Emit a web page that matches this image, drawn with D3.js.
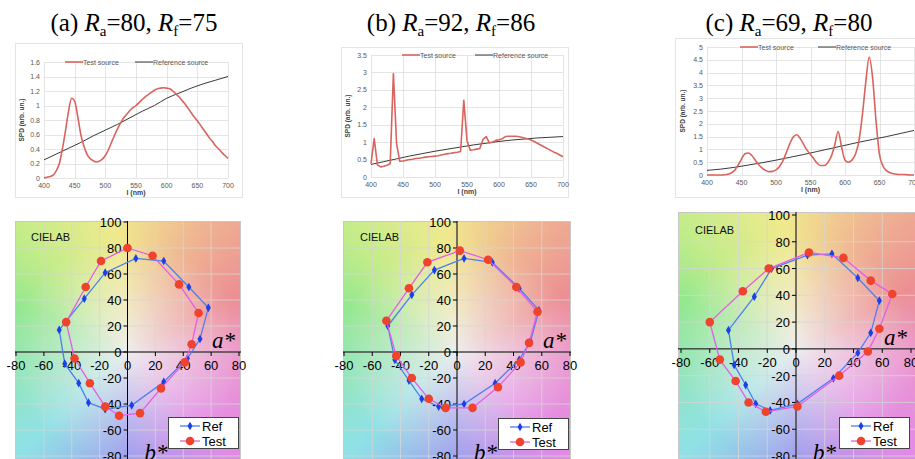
<!DOCTYPE html>
<html>
<head>
<meta charset="utf-8">
<script src="https://cdn.jsdelivr.net/npm/d3@7"></script>
<style>
  body { margin: 0; background: #fff; }
  svg { display: block; }
</style>
</head>
<body>
<script>
// wavelength grids (nm)
var wl5 = d3.range(400, 701, 5);
var wl20 = d3.range(400, 701, 20);

// SPD, test sources, 5 nm steps
var spdTestA = [0, 0.01, 0.02, 0.04, 0.1, 0.2, 0.4, 0.65, 0.92, 1.1, 1.06, 0.85, 0.6, 0.44, 0.33, 0.27, 0.24, 0.22, 0.23, 0.26,
  0.31, 0.39, 0.49, 0.59, 0.68, 0.76, 0.83, 0.88, 0.93, 0.97, 1.0, 1.04, 1.08, 1.12, 1.15, 1.18, 1.21, 1.23, 1.24, 1.245,
  1.24, 1.23, 1.2, 1.16, 1.12, 1.07, 1.02, 0.96, 0.9, 0.84, 0.79, 0.73, 0.67, 0.61, 0.55, 0.5, 0.44, 0.4, 0.35, 0.31, 0.27];
var spdTestB = [0.38, 1.1, 0.35, 0.29, 0.31, 0.34, 0.38, 2.97, 0.95, 0.45, 0.46, 0.48, 0.5, 0.51, 0.53, 0.54, 0.55, 0.57, 0.58, 0.59,
  0.6, 0.61, 0.63, 0.65, 0.67, 0.68, 0.7, 0.71, 0.73, 2.2, 1.05, 0.77, 0.78, 0.8, 0.82, 1.08, 1.16, 0.98, 1.0, 1.05,
  1.07, 1.1, 1.16, 1.17, 1.17, 1.17, 1.16, 1.14, 1.12, 1.09, 1.06, 1.02, 0.97, 0.92, 0.87, 0.82, 0.77, 0.72, 0.68, 0.63, 0.58];
var spdTestC = [0, 0, 0, 0, 0, 0.01, 0.03, 0.08, 0.18, 0.38, 0.62, 0.83, 0.86, 0.76, 0.58, 0.4, 0.27, 0.18, 0.13, 0.14,
  0.2, 0.33, 0.55, 0.88, 1.22, 1.48, 1.57, 1.43, 1.2, 0.97, 0.8, 0.62, 0.45, 0.37, 0.37, 0.48, 0.72, 1.15, 1.7, 1.1,
  0.58, 0.5, 0.58, 0.8, 1.3, 2.3, 3.6, 4.6, 3.8, 2.1, 0.8, 0.35, 0.17, 0.09, 0.05, 0.03, 0.02, 0.02, 0.01, 0, 0];

// SPD, reference sources, 20 nm steps
var spdRefA = [0.25, 0.33, 0.41, 0.49, 0.58, 0.66, 0.74, 0.83, 0.92, 1.0, 1.1, 1.17, 1.24, 1.3, 1.35, 1.4];
var spdRefB = [0.36, 0.44, 0.52, 0.6, 0.67, 0.74, 0.8, 0.86, 0.92, 0.97, 1.02, 1.06, 1.09, 1.12, 1.14, 1.16];
var spdRefC = [0.18, 0.23, 0.3, 0.39, 0.48, 0.58, 0.69, 0.8, 0.92, 1.04, 1.16, 1.28, 1.39, 1.5, 1.62, 1.74];

// CIELAB hue-bin points [a*, b*]
var labRefA = [[6, 72], [26, 70], [44, 50], [58, 34], [52, 10], [43, -5], [26, -23], [3, -41], [-16, -44], [-28, -39],
  [-35, -24], [-45, -9], [-49, 17], [-31, 41], [-16, 61]];
var labTestA = [[0, 80], [18, 74], [37, 52], [51, 30], [46, 6], [41, -8], [24, -28], [9, -47], [-6, -49], [-16, -42],
  [-27, -24], [-38, -5], [-44, 23], [-30, 50], [-19, 70]];
var labRefB = [[5, 72], [25, 69], [44, 49], [58, 32], [52, 8], [44, -6], [27, -24], [5, -40], [-13, -42], [-25, -36],
  [-34, -22], [-44, -6], [-49, 20], [-32, 44], [-16, 63]];
var labTestB = [[2, 78], [22, 71], [42, 50], [57, 31], [51, 7], [45, -8], [29, -27], [11, -43], [-8, -43], [-20, -36],
  [-32, -20], [-43, -3], [-50, 24], [-34, 49], [-21, 69]];
var labRefC = [[8, 70], [25, 71], [43, 53], [58, 36], [52, 12], [43, -3], [26, -22], [1, -41], [-18, -46], [-28, -41],
  [-35, -27], [-43, -12], [-47, 14], [-29, 39], [-17, 60]];
var labTestC = [[9, 72], [33, 68], [52, 51], [67, 41], [58, 15], [50, -2], [30, -20], [1, -43], [-21, -47], [-33, -40],
  [-42, -24], [-53, -8], [-60, 20], [-37, 43], [-19, 60]];

// titles
var panelKeys = ["a", "b", "c"];
var RaValues = [80, 92, 69];
var RfValues = [75, 86, 80];

var abTicks = [-80, -60, -40, -20, 0, 20, 40, 60, 80, 100];

var serif = "'Liberation Serif','Times New Roman',serif";
var sans = "'Liberation Sans',Arial,sans-serif";

var svg = d3.select("body").append("svg")
    .attr("width", 915)
    .attr("height", 459);

// layout of each panel
var layout = [
  { titleX: 134, box: [15, 43, 242, 197], plot: [44, 62, 228, 178], yMax: 1.6, yStep: 0.2, legX: [65, 135], yTitleX: 24,
    lx: [16, 239], ly: [456, 222], bg: [15, 221, 241, 459], cielab: [31, 241], legBox: [168, 417] },
  { titleX: 451, box: [341, 47, 568, 197], plot: [371, 55, 563, 177], yMax: 3.5, yStep: 0.5, legX: [402, 475], yTitleX: 350,
    lx: [344, 570], ly: [456, 222], bg: [343, 221, 571, 459], cielab: [360, 241], legBox: [498, 418] },
  { titleX: 789, box: [675, 38, 925, 197], plot: [707, 47, 914, 175], yMax: 5, yStep: 0.5, legX: [740, 818], yTitleX: 685,
    lx: [681, 911], ly: [456, 215], bg: [678, 212, 930, 459], cielab: [695, 234], legBox: [839, 417] }
];
var spdTests = [spdTestA, spdTestB, spdTestC];
var spdRefs = [spdRefA, spdRefB, spdRefC];
var labRefs = [labRefA, labRefB, labRefC];
var labTests = [labTestA, labTestB, labTestC];

// hue-wheel colours used for the CIELAB background
var hueStops = [
  [0, "#eb98cc"], [30, "#ec8f93"], [60, "#efb392"], [95, "#f0ea8e"], [130, "#c4ec8a"],
  [155, "#93e88e"], [185, "#8fe6b0"], [225, "#8fe2e6"], [270, "#9c9cee"], [315, "#e38ae6"], [360, "#eb98cc"]
];

function drawTitle(L, i) {
  var t = svg.append("text")
      .attr("x", L.titleX).attr("y", 31)
      .attr("text-anchor", "middle")
      .style("font-family", serif).style("font-size", "25px").attr("fill", "#000");
  t.append("tspan").text("(" + panelKeys[i] + ") ");
  t.append("tspan").style("font-style", "italic").text("R");
  t.append("tspan").attr("dy", 5).style("font-size", "15px").text("a");
  t.append("tspan").attr("dy", -5).text("=" + RaValues[i] + ", ");
  t.append("tspan").style("font-style", "italic").text("R");
  t.append("tspan").attr("dy", 5).style("font-size", "15px").text("f");
  t.append("tspan").attr("dy", -5).text("=" + RfValues[i]);
}

function drawSpd(L, i) {
  var g = svg.append("g");
  var b = L.box, p = L.plot;
  g.append("rect").attr("x", b[0] + 0.5).attr("y", b[1] + 0.5)
      .attr("width", b[2] - b[0]).attr("height", b[3] - b[1])
      .attr("fill", "#fff").attr("stroke", "#e4e4e4");

  var x = d3.scaleLinear().domain([400, 700]).range([p[0], p[2]]);
  var y = d3.scaleLinear().domain([0, L.yMax]).range([p[3], p[1]]);
  var yt = d3.range(0, L.yMax + 1e-9, L.yStep);
  var xt = d3.range(400, 701, 50);

  g.selectAll(".hg").data(yt).enter().append("line")
      .attr("x1", p[0]).attr("x2", p[2])
      .attr("y1", function(d) { return Math.round(y(d)) + 0.5; })
      .attr("y2", function(d) { return Math.round(y(d)) + 0.5; })
      .attr("stroke", "#dadada").attr("stroke-width", 0.7);
  g.selectAll(".vg").data(xt).enter().append("line")
      .attr("y1", p[1]).attr("y2", p[3])
      .attr("x1", function(d) { return Math.round(x(d)) + 0.5; })
      .attr("x2", function(d) { return Math.round(x(d)) + 0.5; })
      .attr("stroke", "#dadada").attr("stroke-width", 0.7);

  g.selectAll(".yl").data(yt).enter().append("text")
      .attr("x", p[0] - 4).attr("y", function(d) { return y(d) + 2.5; })
      .attr("text-anchor", "end")
      .style("font-family", sans).style("font-size", "7px").attr("fill", "#595959")
      .text(function(d) { return d3.format("~g")(+d.toFixed(2)); });
  g.selectAll(".xl").data(xt).enter().append("text")
      .attr("x", function(d) { return x(d); }).attr("y", p[3] + 10)
      .attr("text-anchor", "middle")
      .style("font-family", sans).style("font-size", "7px").attr("fill", "#595959")
      .text(function(d) { return d; });

  g.append("text")
      .attr("transform", "translate(" + L.yTitleX + "," + ((p[1] + p[3]) / 2) + ") rotate(-90)")
      .attr("text-anchor", "middle")
      .style("font-family", sans).style("font-size", "6.5px").style("font-weight", "bold").attr("fill", "#404040")
      .text("SPD (arb. un.)");
  g.append("text")
      .attr("x", (p[0] + p[2]) / 2).attr("y", p[3] + 17)
      .attr("text-anchor", "middle")
      .style("font-family", sans).style("font-size", "7px").style("font-weight", "bold").attr("fill", "#404040")
      .text("l (nm)");

  var refLine = d3.line()
      .x(function(d, k) { return x(wl20[k]); })
      .y(function(d) { return y(d); })
      .curve(d3.curveMonotoneX);
  var testLine = d3.line()
      .x(function(d, k) { return x(wl5[k]); })
      .y(function(d) { return y(d); });
  if (i !== 1) testLine.curve(d3.curveMonotoneX);

  g.append("path").datum(spdRefs[i]).attr("d", refLine)
      .attr("fill", "none").attr("stroke", "#222").attr("stroke-width", 0.9);
  g.append("path").datum(spdTests[i]).attr("d", testLine)
      .attr("fill", "none").attr("stroke", "#d9635d").attr("stroke-width", 1.6)
      .attr("stroke-linejoin", "round");

  // legend
  var ly = p[1];
  g.append("line").attr("x1", L.legX[0]).attr("x2", L.legX[0] + 18).attr("y1", ly).attr("y2", ly)
      .attr("stroke", "#d9635d").attr("stroke-width", 1.6);
  g.append("text").attr("x", L.legX[0] + 18).attr("y", ly + 2.5)
      .style("font-family", sans).style("font-size", "7px").attr("fill", "#595959").text("Test source");
  g.append("line").attr("x1", L.legX[1]).attr("x2", L.legX[1] + 18).attr("y1", ly).attr("y2", ly)
      .attr("stroke", "#222").attr("stroke-width", 0.9);
  g.append("text").attr("x", L.legX[1] + 18).attr("y", ly + 2.5)
      .style("font-family", sans).style("font-size", "7px").attr("fill", "#595959").text("Reference source");
}

function hueColor(deg) {
  for (var k = 1; k < hueStops.length; k++) {
    if (deg <= hueStops[k][0]) {
      var t = (deg - hueStops[k - 1][0]) / (hueStops[k][0] - hueStops[k - 1][0]);
      return d3.interpolateLab(hueStops[k - 1][1], hueStops[k][1])(t);
    }
  }
  return hueStops[0][1];
}

function labBackground(x, y, bg) {
  var n = 40;
  var c = document.createElement("canvas");
  c.width = n; c.height = n;
  var ctx = c.getContext("2d");
  var img = ctx.createImageData(n, n);
  for (var j = 0; j < n; j++) {
    for (var i = 0; i < n; i++) {
      var px = bg[0] + (bg[2] - bg[0]) * (i + 0.5) / n;
      var py = bg[1] + (bg[3] - bg[1]) * (j + 0.5) / n;
      var a = x.invert(px), b = y.invert(py);
      var r = Math.sqrt(a * a + b * b);
      var deg = (Math.atan2(b, a) * 180 / Math.PI + 360) % 360;
      var t = Math.min(1, Math.pow(r / 85, 0.9));
      var col = d3.rgb(d3.interpolateLab("#eeeeee", hueColor(deg))(t));
      var o = (j * n + i) * 4;
      img.data[o] = col.r; img.data[o + 1] = col.g; img.data[o + 2] = col.b; img.data[o + 3] = 255;
    }
  }
  ctx.putImageData(img, 0, 0);
  return c.toDataURL();
}

function drawLab(L, i) {
  var g = svg.append("g");
  var x = d3.scaleLinear().domain([-80, 80]).range(L.lx);
  var y = d3.scaleLinear().domain([-80, 100]).range(L.ly);
  var bg = L.bg;

  g.append("image")
      .attr("x", bg[0]).attr("y", bg[1])
      .attr("width", bg[2] - bg[0]).attr("height", bg[3] - bg[1])
      .attr("preserveAspectRatio", "none")
      .attr("href", labBackground(x, y, bg));
  g.append("rect").attr("x", bg[0] + 0.5).attr("y", bg[1] + 0.5)
      .attr("width", bg[2] - bg[0] - 1).attr("height", bg[3] - bg[1])
      .attr("fill", "none").attr("stroke", "#c8c8c8");

  // grid
  g.selectAll(".gx").data(abTicks.slice(1, 8)).enter().append("line")
      .attr("x1", function(d) { return x(d); }).attr("x2", function(d) { return x(d); })
      .attr("y1", bg[1]).attr("y2", bg[3])
      .attr("stroke", "#d6d6d6").attr("stroke-opacity", 0.8);
  g.selectAll(".gy").data(abTicks.slice(0, 9)).enter().append("line")
      .attr("y1", function(d) { return y(d); }).attr("y2", function(d) { return y(d); })
      .attr("x1", bg[0]).attr("x2", bg[2])
      .attr("stroke", "#d6d6d6").attr("stroke-opacity", 0.8);

  // axes through origin
  var x0 = x(0), y0 = y(0);
  g.append("line").attr("x1", x0).attr("x2", x0).attr("y1", bg[1]).attr("y2", bg[3]).attr("stroke", "#000");
  g.append("line").attr("x1", bg[0]).attr("x2", bg[2]).attr("y1", y0).attr("y2", y0).attr("stroke", "#000");

  var yTicks = abTicks.filter(function(d) { return y(d) > bg[1] - 8; });
  g.selectAll(".ty").data(yTicks).enter().append("line")
      .attr("x1", x0 - 4).attr("x2", x0)
      .attr("y1", function(d) { return y(d); }).attr("y2", function(d) { return y(d); })
      .attr("stroke", "#000");
  g.selectAll(".lyl").data(yTicks).enter().append("text")
      .attr("x", x0 - 6).attr("y", function(d) { return y(d) + 5; })
      .attr("text-anchor", "end")
      .style("font-family", sans).style("font-size", "13px").attr("fill", "#000")
      .text(function(d) { return d; });
  g.selectAll(".tx").data(abTicks.slice(0, 9)).enter().append("line")
      .attr("x1", function(d) { return x(d); }).attr("x2", function(d) { return x(d); })
      .attr("y1", y0).attr("y2", y0 + 4)
      .attr("stroke", "#000");
  g.selectAll(".lxl").data(abTicks.slice(0, 9)).enter().append("text")
      .attr("x", function(d) { return x(d); }).attr("y", y0 + 18)
      .attr("text-anchor", "middle")
      .style("font-family", sans).style("font-size", "13px").attr("fill", "#000")
      .text(function(d) { return d; });

  g.append("text").attr("x", L.cielab[0]).attr("y", L.cielab[1])
      .style("font-family", sans).style("font-size", "11px").attr("fill", "#111").text("CIELAB");
  g.append("text").attr("x", x(80) - 27).attr("y", y0 - 4)
      .style("font-family", serif).style("font-size", "23px").style("font-style", "italic").text("a*");
  g.append("text").attr("x", x0 + 17).attr("y", y(-80) + 4)
      .style("font-family", serif).style("font-size", "23px").style("font-style", "italic").text("b*");

  var line = d3.line()
      .x(function(d) { return x(d[0]); })
      .y(function(d) { return y(d[1]); })
      .curve(d3.curveLinearClosed);
  var diamond = d3.symbol().type(d3.symbolDiamond).size(22);

  g.append("path").datum(labRefs[i]).attr("d", line)
      .attr("fill", "none").attr("stroke", "#4d7ff0").attr("stroke-width", 1.3);
  g.selectAll(".mr").data(labRefs[i]).enter().append("path")
      .attr("d", diamond)
      .attr("transform", function(d) { return "translate(" + x(d[0]) + "," + y(d[1]) + ")"; })
      .attr("fill", "#1b3fe8");
  g.append("path").datum(labTests[i]).attr("d", line)
      .attr("fill", "none").attr("stroke", "#e35ee6").attr("stroke-width", 1.3);
  g.selectAll(".mt").data(labTests[i]).enter().append("circle")
      .attr("cx", function(d) { return x(d[0]); })
      .attr("cy", function(d) { return y(d[1]); })
      .attr("r", 4.3)
      .attr("fill", "#f0432e");

  // legend
  var lb = L.legBox;
  var lg = g.append("g").attr("transform", "translate(" + lb[0] + "," + lb[1] + ")");
  lg.append("rect").attr("x", 0.5).attr("y", 0.5).attr("width", 70).attr("height", 31)
      .attr("fill", "#fff").attr("stroke", "#444");
  lg.append("line").attr("x1", 12).attr("x2", 32).attr("y1", 9).attr("y2", 9)
      .attr("stroke", "#4d7ff0").attr("stroke-width", 1.3);
  lg.append("path").attr("d", diamond).attr("transform", "translate(22,9)").attr("fill", "#1b3fe8");
  lg.append("text").attr("x", 34).attr("y", 13.5)
      .style("font-family", sans).style("font-size", "13px").text("Ref");
  lg.append("line").attr("x1", 12).attr("x2", 32).attr("y1", 24).attr("y2", 24)
      .attr("stroke", "#e35ee6").attr("stroke-width", 1.3);
  lg.append("circle").attr("cx", 22).attr("cy", 24).attr("r", 4.3).attr("fill", "#f0432e");
  lg.append("text").attr("x", 34).attr("y", 28.5)
      .style("font-family", sans).style("font-size", "13px").text("Test");
}

layout.forEach(function(L, i) {
  drawTitle(L, i);
  drawSpd(L, i);
  drawLab(L, i);
});
</script>
</body>
</html>
